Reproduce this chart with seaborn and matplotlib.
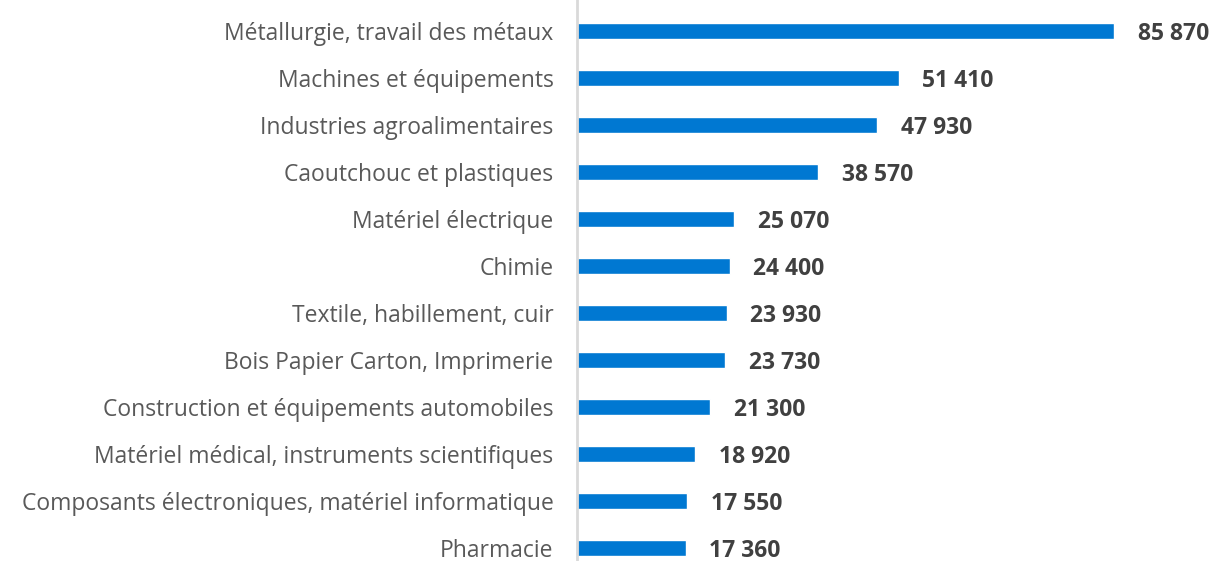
import matplotlib
matplotlib.use("Agg")
import matplotlib.pyplot as plt
import seaborn as sns
import pandas as pd

# Données
secteurs = [
    "Métallurgie, travail des métaux",
    "Machines et équipements",
    "Industries agroalimentaires",
    "Caoutchouc et plastiques",
    "Matériel électrique",
    "Chimie",
    "Textile, habillement, cuir",
    "Bois Papier Carton, Imprimerie",
    "Construction et équipements automobiles",
    "Matériel médical, instruments scientifiques",
    "Composants électroniques, matériel informatique",
    "Pharmacie",
]
effectifs = [85870, 51410, 47930, 38570, 25070, 24400, 23930, 23730, 21300, 18920, 17550, 17360]

df = pd.DataFrame({"secteur": secteurs, "effectif": effectifs})

sns.set_style("white")
plt.rcParams["font.family"] = ["Open Sans", "DejaVu Sans"]

fig = plt.figure(figsize=(12.14, 5.61), dpi=100)
ax = fig.add_axes([577 / 1214, 0.0, 1 - 577 / 1214, 1.0])

sns.barplot(data=df, x="effectif", y="secteur", order=secteurs,
            color="#0078D2", saturation=1, width=0.35, ax=ax)

ax.set_xlim(0, 101855)
ax.set_ylim(11 + 13 / 47, -31 / 47)

for i, v in enumerate(effectifs):
    label = f"{v:,}".replace(",", " ")
    ax.text(v + 3800, i + 0.06, label, va="center", ha="left",
            fontsize=16.5, fontweight="bold", color="#404040")

ax.set_xlabel("")
ax.set_ylabel("")
ax.set_xticks([])
ax.tick_params(axis="y", length=0, pad=17, labelsize=16.5, labelcolor="#595959")
for s in ["top", "right", "bottom"]:
    ax.spines[s].set_visible(False)
ax.spines["left"].set_color("#D9D9D9")
ax.spines["left"].set_linewidth(2)

fig.savefig("out.png", dpi=100)
